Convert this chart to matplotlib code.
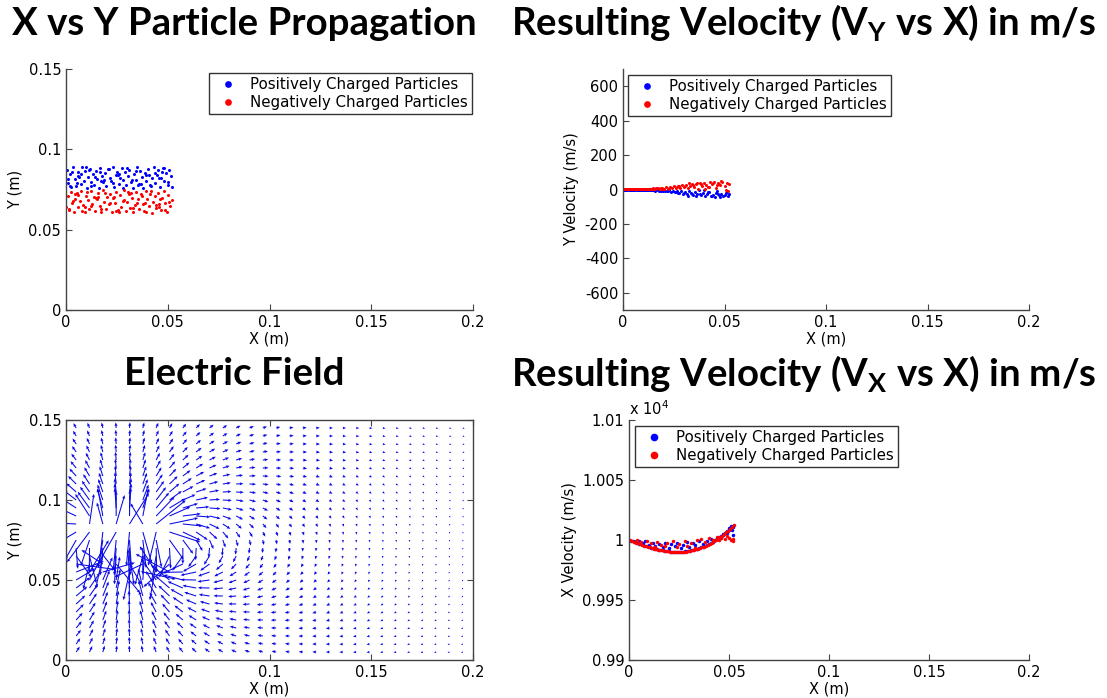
import matplotlib.pyplot as plt
import numpy as np

plt.rcParams['font.family'] = 'DejaVu Sans'
plt.rcParams['font.size'] = 10.5
plt.rcParams['mathtext.fontset'] = 'custom'
plt.rcParams['mathtext.rm'] = 'DejaVu Sans'
plt.rcParams['mathtext.bf'] = 'Lato:bold'

# --- particle positions (mm) ---
POS_X_MM = [0.4, 1.1, 1.9, 2.6, 3.4, 4.2, 4.9, 5.7, 6.4, 7.2,
            7.9, 8.7, 9.4, 10.2, 10.9, 11.7, 12.4, 13.2, 13.9, 14.7,
            15.4, 16.2, 16.9, 17.7, 18.4, 19.2, 19.9, 20.7, 21.4, 22.2,
            22.9, 23.7, 24.4, 25.2, 25.9, 26.7, 27.4, 28.2, 28.9, 29.7,
            30.4, 31.2, 31.9, 32.7, 33.4, 34.2, 34.9, 35.7, 36.4, 37.2,
            37.9, 38.7, 39.4, 40.2, 40.9, 41.7, 42.4, 43.2, 43.9, 44.7,
            45.4, 46.2, 46.9, 47.7, 48.4, 49.2, 49.9, 50.7, 51.4, 52.0,
            0.9, 3.0, 5.3, 7.6, 9.8, 12.1, 14.3, 16.6, 18.8, 21.1,
            23.3, 25.6, 27.8, 30.1, 32.3, 34.6, 36.8, 39.1, 41.3, 43.6,
            45.8, 48.1, 50.3, 2.2, 6.0, 11.3, 17.3, 26.1, 35.3, 47.2]
POS_Y_MM = [87.2, 79.1, 84.5, 76.8, 88.9, 81.3, 77.4, 85.7, 83.0, 78.2,
            89.1, 80.6, 86.3, 76.2, 82.8, 88.0, 79.8, 84.9, 77.9, 86.8,
            81.7, 75.9, 88.5, 83.6, 79.4, 85.2, 77.1, 87.7, 82.1, 80.2,
            89.3, 76.5, 84.1, 86.0, 78.7, 82.4, 88.2, 80.9, 85.9, 77.6,
            83.3, 87.4, 79.6, 76.0, 84.7, 81.0, 88.7, 78.4, 86.5, 82.6,
            75.8, 85.4, 80.4, 87.9, 83.8, 77.2, 81.9, 89.0, 79.0, 84.3,
            86.9, 76.7, 82.2, 88.4, 80.0, 85.0, 78.0, 87.0, 83.1, 76.4,
            81.5, 86.2, 78.9, 84.6, 89.2, 77.0, 82.9, 85.6, 80.7, 87.5,
            79.3, 83.9, 76.1, 88.6, 81.2, 86.6, 78.5, 84.0, 77.8, 85.3,
            82.0, 88.1, 79.7, 76.9, 83.4, 87.1, 80.3, 84.8, 78.1, 86.1]
NEG_X_MM = [0.2, 0.8, 1.6, 2.3, 3.1, 3.8, 4.6, 5.3, 6.1, 6.8,
            7.6, 8.3, 9.1, 9.8, 10.6, 11.3, 12.1, 12.8, 13.6, 14.3,
            15.1, 15.8, 16.6, 17.3, 18.1, 18.8, 19.6, 20.3, 21.1, 21.8,
            22.6, 23.3, 24.1, 24.8, 25.6, 26.3, 27.1, 27.8, 28.6, 29.3,
            30.1, 30.8, 31.6, 32.3, 33.1, 33.8, 34.6, 35.3, 36.1, 36.8,
            37.6, 38.3, 39.1, 39.8, 40.6, 41.3, 42.1, 42.8, 43.6, 44.3,
            45.1, 45.8, 46.6, 47.3, 48.1, 48.8, 49.6, 50.3, 51.1, 51.9,
            1.3, 3.5, 5.8, 8.0, 10.3, 12.5, 14.8, 17.0, 19.3, 21.5,
            23.8, 26.0, 28.3, 30.5, 32.8, 35.0, 37.3, 39.5, 41.8, 44.0,
            46.3, 48.5, 50.8, 4.4, 9.5, 15.9, 24.6, 31.9, 38.9, 45.5]
NEG_Y_MM = [64.2, 70.8, 62.1, 73.5, 66.7, 61.0, 69.3, 72.6, 63.8, 67.9,
            74.1, 65.4, 60.9, 71.2, 68.5, 62.7, 73.9, 66.1, 70.2, 61.6,
            68.8, 72.9, 64.7, 61.3, 74.4, 67.2, 63.1, 70.5, 65.9, 72.1,
            60.7, 69.7, 66.4, 73.2, 62.4, 71.6, 64.0, 68.1, 74.6, 61.9,
            67.5, 72.4, 63.4, 70.0, 60.8, 65.1, 73.7, 68.9, 62.9, 71.9,
            66.0, 61.4, 74.0, 69.0, 64.5, 72.0, 60.6, 67.0, 70.9, 63.6,
            73.0, 65.7, 62.2, 69.9, 74.3, 66.9, 61.2, 71.4, 64.9, 68.3,
            63.0, 67.7, 71.8, 61.8, 73.4, 65.0, 69.5, 62.6, 72.7, 66.3,
            70.6, 61.1, 68.6, 73.6, 63.3, 66.6, 71.1, 60.9, 74.2, 65.6,
            69.1, 62.3, 67.4, 72.3, 64.4, 70.3, 61.5, 73.1, 66.8, 63.9]

# --- Y velocity samples: x (mm), vy (m/s) ---
POS_VY_X_MM = [0.5, 1.5, 2.5, 3.5, 4.5, 5.5, 6.5, 7.5, 8.5, 9.5,
               10.5, 11.5, 12.5, 13.5, 14.5, 15.5, 16.5, 17.5, 18.5, 19.5,
               20.5, 21.5, 22.5, 23.5, 24.5, 25.5, 26.5, 27.5, 28.5, 29.5,
               30.5, 31.5, 32.5, 33.5, 34.5, 35.5, 36.5, 37.5, 38.5, 39.5,
               40.5, 41.5, 42.5, 43.5, 44.5, 45.5, 46.5, 47.5, 48.5, 49.5,
               50.5, 51.5, 52.0, 18.0, 22.0, 26.0, 30.0, 34.0, 38.0, 42.0,
               44.0, 46.0, 48.0, 50.0, 51.0, 36.0, 40.0, 27.0, 32.0, 47.0,
               0.0, 1.0, 2.0, 3.0, 4.0, 5.0, 6.0, 7.0, 8.0, 9.0,
               10.0, 11.0, 12.0, 13.0, 14.0, 15.0, 16.0, 17.0, 18.5, 19.0]
POS_VY = [-0.5, -0.8, 0.3, -1.0, -0.6, -1.2, 0.2, -1.5, -0.9, -2.0,
          -1.8, -3.0, -2.2, -4.5, -1.0, -5.5, -3.8, -7.0, -2.5, -9.0,
          -6.0, -11, -4.0, -14, -8.5, -17, -10, -21, -6.5, -24,
          -13, -27, -9, -22, -31, -16, -28, -5, -34, -19,
          -36, -24, -12, -39, -30, -42, -8, -33, -26, -40,
          -20, -35, -28, -4, -9, -13, -18, -25, -29, -15,
          -37, -22, -41, -31, -12, -38, -3, -19, -36, -27,
          -0.2, -0.4, -0.7, -0.3, -1.1, -0.8, -1.4, -0.6, -1.8, -1.2,
          -2.4, -1.5, -3.5, -2.0, -5.0, -3.0, -6.2, -4.1, -8.0, -5.5]
NEG_VY_X_MM = [0.0, 1.0, 2.0, 3.0, 4.0, 5.0, 6.0, 7.0, 8.0, 9.0,
               10.0, 11.0, 12.0, 13.0, 14.0, 15.0, 16.0, 17.0, 18.0, 19.0,
               20.0, 21.0, 22.0, 23.0, 24.0, 25.0, 26.0, 27.0, 28.0, 29.0,
               30.0, 31.0, 32.0, 33.0, 34.0, 35.0, 36.0, 37.0, 38.0, 39.0,
               40.0, 41.0, 42.0, 43.0, 44.0, 45.0, 46.0, 47.0, 48.0, 49.0,
               50.0, 51.0, 52.0, 18.5, 22.5, 26.5, 30.5, 34.5, 38.5, 42.5,
               44.5, 46.5, 48.5, 50.5, 51.5, 36.5, 40.5, 27.5, 32.5, 47.5,
               0.5, 1.5, 2.5, 3.5, 4.5, 5.5, 6.5, 7.5, 8.5, 9.5,
               10.5, 11.5, 12.5, 13.5, 14.5, 15.5, 16.5, 17.5, 18.5, 19.5]
NEG_VY = [0.3, 0.8, 0.2, 1.2, 0.5, 1.6, 0.9, 2.0, 0.7, 2.6,
          1.5, 3.2, 2.0, 4.8, 1.2, 6.0, 3.5, 7.5, 2.8, 9.5,
          5.5, 12, 3.8, 15, 8, 18, 11, 22, 6, 25,
          14, 29, 9, 23, 33, 17, 30, 5, 36, 20,
          38, 26, 13, 42, 31, 45, 10, 35, 28, 44,
          22, 37, 30, 4, 10, 14, 20, 26, 32, 17,
          40, 24, 47, -5, -8, 39, 2, 21, 38, 30,
          0.1, 0.5, 1.0, 0.4, 1.4, 0.8, 1.8, 1.1, 2.3, 1.3,
          2.5, 1.8, 3.6, 2.2, 5.0, 2.9, 6.5, 4.0, 8.0, 5.2]

# --- X velocity samples: x (mm), vx (m/s) ---
POS_VX_X_MM = [0, 1, 2, 3, 4, 5, 6, 7, 8, 9,
               10, 11, 12, 13, 14, 15, 16, 17, 18, 19,
               20, 21, 22, 23, 24, 25, 26, 27, 28, 29,
               30, 31, 32, 33, 34, 35, 36, 37, 38, 39,
               40, 41, 42, 43, 44, 45, 46, 47, 48, 49,
               50, 51, 52,
               3, 5, 7, 8, 10, 12, 13, 15, 17, 18,
               20, 21, 23, 24, 26, 27, 29, 30, 32, 33,
               35, 37, 39, 41, 43, 45, 47, 49, 50, 51,
               51.5, 52, 52, 46, 34]
POS_VX = [10000.0, 9999.4, 9998.8, 9998.2, 9997.6, 9997.0, 9996.4, 9995.8, 9995.3, 9994.7,
          9994.2, 9993.7, 9993.2, 9992.8, 9992.4, 9992.0, 9991.6, 9991.3, 9991.0, 9990.8,
          9990.6, 9990.4, 9990.3, 9990.2, 9990.2, 9990.2, 9990.3, 9990.4, 9990.6, 9990.8,
          9991.1, 9991.4, 9991.8, 9992.2, 9992.7, 9993.2, 9993.8, 9994.5, 9995.2, 9996.0,
          9996.8, 9997.7, 9998.7, 9999.7, 10000.8, 10001.9, 10003.1, 10004.4, 10005.7, 10007.1,
          10008.6, 10010.2, 10011.8,
          9998.6, 9999.2, 9997.4, 9998.9, 9996.2, 9997.8, 9995.0, 9996.9, 9994.2, 9997.5,
          9993.6, 9996.4, 9994.9, 9997.9, 9993.1, 9996.0, 9998.2, 9994.4, 9997.1, 9995.6,
          9998.8, 9996.6, 9999.4, 10000.9, 9999.9, 10002.1, 10004.6, 10006.2, 10009.8, 10011.9,
          10008.3, 10010.5, 10004.0, 10001.5, 9992.9]
NEG_VX_X_MM = [0.5, 1.5, 2.5, 3.5, 4.5, 5.5, 6.5, 7.5, 8.5, 9.5,
               10.5, 11.5, 12.5, 13.5, 14.5, 15.5, 16.5, 17.5, 18.5, 19.5,
               20.5, 21.5, 22.5, 23.5, 24.5, 25.5, 26.5, 27.5, 28.5, 29.5,
               30.5, 31.5, 32.5, 33.5, 34.5, 35.5, 36.5, 37.5, 38.5, 39.5,
               40.5, 41.5, 42.5, 43.5, 44.5, 45.5, 46.5, 47.5, 48.5, 49.5,
               50.5, 51.5, 52.3,
               4, 6, 9, 11, 14, 16, 19, 22, 25, 28,
               31, 34, 36, 38, 40, 42, 44, 45, 46, 48,
               49, 50, 51, 52, 52, 13, 18, 24, 29, 33]
NEG_VX = [9999.7, 9999.0, 9998.4, 9997.8, 9997.2, 9996.6, 9996.0, 9995.4, 9994.9, 9994.3,
          9993.8, 9993.3, 9992.8, 9992.4, 9992.0, 9991.6, 9991.3, 9991.0, 9990.7, 9990.5,
          9990.3, 9990.1, 9990.0, 9989.9, 9989.9, 9990.0, 9990.1, 9990.2, 9990.4, 9990.7,
          9991.0, 9991.3, 9991.7, 9992.1, 9992.6, 9993.2, 9993.8, 9994.5, 9995.3, 9996.1,
          9997.0, 9997.9, 9998.9, 10000.0, 10001.1, 10002.3, 10003.6, 10004.9, 10006.3, 10007.8,
          10009.4, 10011.0, 10012.6,
          9999.8, 9998.1, 9999.0, 9997.1, 9998.4, 9995.8, 9997.2, 9998.9, 9996.3, 9999.3,
          9997.6, 9999.9, 10001.2, 9998.6, 10001.6, 10000.4, 10002.6, 9999.9, 10001.9, 10000.8,
          10003.3, 10001.7, 9999.9, 9999.3, 10001.2, 9993.9, 9994.6, 9994.1, 9995.3, 9993.4]

# --- charges used for the field plot (mm) ---
FIELD_POS_X_MM = [10, 14, 18, 22, 26, 30, 34, 38, 42, 46]
FIELD_POS_Y_MM = [84, 82, 85, 83, 81, 84, 82, 85, 83, 81]
FIELD_NEG_X_MM = [8, 12, 17, 21, 26, 31, 35, 40, 44, 49]
FIELD_NEG_Y_MM = [60, 56, 62, 55, 59, 53, 61, 54, 58, 57]

BLUE = '#0000ff'
RED = '#ff0000'
SPINE = '#444444'
W, H = 1107, 698


def mm(values):
    return np.array(values) / 1000.0


def style_axes(ax, box=False):
    for side in ['top', 'right']:
        ax.spines[side].set_visible(box)
    for sp in ax.spines.values():
        sp.set_color(SPINE)
        sp.set_linewidth(1.0)
    ax.tick_params(direction='in', length=4, color=SPINE, labelsize=10.5,
                   top=box, right=box)
    ax.xaxis.set_major_formatter(plt.FuncFormatter(lambda v, p: '%g' % v))
    ax.yaxis.set_major_formatter(plt.FuncFormatter(lambda v, p: '%g' % v))


def add_legend(ax, left_px, top_px):
    leg = ax.legend(loc='upper left', bbox_to_anchor=(left_px / W, 1 - top_px / H),
                    bbox_transform=fig.transFigure, borderaxespad=0,
                    fancybox=False, framealpha=1, edgecolor='#333333',
                    markerscale=2.2, handlelength=2.0, handletextpad=0.5,
                    borderpad=0.25, labelspacing=0.22, fontsize=10.8)
    leg.get_frame().set_linewidth(1.0)


def fig_axes(left, top, right, bottom):
    return fig.add_axes([left / W, 1 - bottom / H, (right - left) / W, (bottom - top) / H])


fig = plt.figure(figsize=(W / 100, H / 100), dpi=100)

# particle positions
ax1 = fig_axes(66, 69, 473, 310)
ax1.plot(mm(POS_X_MM), mm(POS_Y_MM), 'o', color=BLUE, ms=2.2, mew=0,
         label='Positively Charged Particles')
ax1.plot(mm(NEG_X_MM), mm(NEG_Y_MM), 'o', color=RED, ms=2.2, mew=0,
         label='Negatively Charged Particles')
ax1.set_xlim(0, 0.2)
ax1.set_ylim(0, 0.15)
ax1.set_xticks([0, 0.05, 0.1, 0.15, 0.2])
ax1.set_yticks([0, 0.05, 0.1, 0.15])
ax1.set_xlabel('X (m)', labelpad=1)
ax1.set_ylabel('Y (m)')
style_axes(ax1)
add_legend(ax1, 209, 73)

# Y velocity
ax2 = fig_axes(623, 69, 1029, 310)
ax2.plot(mm(POS_VY_X_MM), POS_VY, 'o', color=BLUE, ms=2.2, mew=0,
         label='Positively Charged Particles')
ax2.plot(mm(NEG_VY_X_MM), NEG_VY, 'o', color=RED, ms=2.2, mew=0,
         label='Negatively Charged Particles')
ax2.set_xlim(0, 0.2)
ax2.set_ylim(-700, 700)
ax2.set_xticks([0, 0.05, 0.1, 0.15, 0.2])
ax2.set_yticks([-600, -400, -200, 0, 200, 400, 600])
ax2.set_xlabel('X (m)', labelpad=1)
ax2.set_ylabel('Y Velocity (m/s)')
style_axes(ax2)
add_legend(ax2, 628, 75)

# electric field from the charge clusters
ax3 = fig_axes(66, 420, 473, 660)
gx, gy = np.meshgrid(np.linspace(0.005, 0.195, 30), np.linspace(0.005, 0.145, 29))
ex = np.zeros_like(gx)
ey = np.zeros_like(gy)
charges = ([(x, y, 1.0) for x, y in zip(mm(FIELD_POS_X_MM), mm(FIELD_POS_Y_MM))] +
           [(x, y, -1.0) for x, y in zip(mm(FIELD_NEG_X_MM), mm(FIELD_NEG_Y_MM))])
for qx, qy, q in charges:
    dx = gx - qx
    dy = gy - qy
    r3 = (dx ** 2 + dy ** 2 + 0.002 ** 2) ** 1.5
    ex += q * dx / r3
    ey += q * dy / r3
mag = np.hypot(ex, ey)
# compress the magnitude so the far field stays visible
k = 0.0028 / mag[13, 15] ** 0.4
length = np.minimum(k * mag ** 0.4, 0.024)
ax3.quiver(gx, gy, ex / mag * length, ey / mag * length, color='#0a0ae6',
           angles='xy', scale_units='xy', scale=1, width=0.0026,
           headwidth=3, headlength=3.5, headaxislength=3)
ax3.set_xlim(0, 0.2)
ax3.set_ylim(0, 0.15)
ax3.set_xticks([0, 0.05, 0.1, 0.15, 0.2])
ax3.set_yticks([0, 0.05, 0.1, 0.15])
ax3.set_xlabel('X (m)', labelpad=1)
ax3.set_ylabel('Y (m)')
style_axes(ax3, box=True)

# X velocity, shown in units of 10^4 m/s
ax4 = fig_axes(629, 420, 1029, 660)
ax4.plot(mm(POS_VX_X_MM), np.array(POS_VX) / 1e4, 'o', color=BLUE, ms=2.5, mew=0,
         label='Positively Charged Particles')
ax4.plot(mm(NEG_VX_X_MM), np.array(NEG_VX) / 1e4, 'o', color=RED, ms=2.5, mew=0,
         label='Negatively Charged Particles')
ax4.set_xlim(0, 0.2)
ax4.set_ylim(0.99, 1.01)
ax4.set_xticks([0, 0.05, 0.1, 0.15, 0.2])
ax4.set_yticks([0.99, 0.995, 1.0, 1.005, 1.01])
ax4.set_xlabel('X (m)', labelpad=1)
ax4.set_ylabel('X Velocity (m/s)')
style_axes(ax4)
ax4.text(0.0, 1.01, r'x 10$^4$', transform=ax4.transAxes, fontsize=10.5,
         ha='left', va='bottom')
add_legend(ax4, 635, 426)

# panel headings
title_kw = dict(fontsize=27.6, fontweight='bold', family='Lato', ha='center', va='baseline')
fig.text(244 / W, 1 - 35 / H, 'X vs Y Particle Propagation', **title_kw)
fig.text(804 / W, 1 - 35 / H, r'Resulting Velocity (V$_\mathbf{Y}$ vs X) in m/s', **title_kw)
fig.text(234 / W, 1 - 385 / H, 'Electric Field', **title_kw)
fig.text(804 / W, 1 - 386 / H, r'Resulting Velocity (V$_\mathbf{X}$ vs X) in m/s', **title_kw)

fig.savefig('out.png', dpi=100)
